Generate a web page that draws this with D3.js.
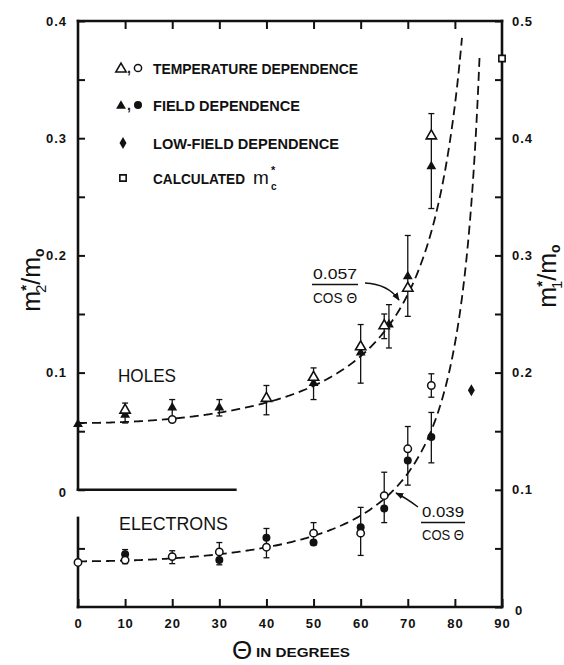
<!DOCTYPE html>
<html>
<head>
<meta charset="utf-8">
<script src="https://cdn.jsdelivr.net/npm/d3@7"></script>
<style>
  html, body { margin: 0; padding: 0; background: #fff; }
  svg { display: block; }
  text { font-family: "Liberation Sans", Arial, sans-serif; fill: #111; }
</style>
</head>
<body>
<svg id="chart" width="564" height="665"></svg>
<script>
// ---------- DATA ----------
const xTickValues = [0, 10, 20, 30, 40, 50, 60, 70, 80, 90];
const xTickLabels = ["0", "10", "20", "30", "40", "50", "60", "70", "80", "90"];
const leftTickLabelValues = [0, 0.1, 0.2, 0.3, 0.4];
const leftTickLabels = ["0", "0.1", "0.2", "0.3", "0.4"];
const rightTickLabelValues = [0, 0.1, 0.2, 0.3, 0.4, 0.5];
const rightTickLabels = ["0", "0.1", "0.2", "0.3", "0.4", "0.5"];

// Holes (left axis m2*/m0)
const holesTempTheta = [10, 40, 50, 60, 65, 70, 75];                 // open triangles
const holesTempMass  = [0.068, 0.078, 0.096, 0.122, 0.140, 0.172, 0.302];
const holesTempCircTheta = [20];                                      // open circle
const holesTempCircMass  = [0.060];
const holesFieldTheta = [0, 10, 20, 30, 50, 60, 66, 70, 75];          // filled triangles
const holesFieldMass  = [0.056, 0.064, 0.070, 0.070, 0.091, 0.117, 0.141, 0.182, 0.276];
const holesErrTheta = [10, 20, 30, 40, 50, 60, 65, 66, 70, 75];
const holesErrLo    = [0.057, 0.061, 0.063, 0.064, 0.077, 0.091, 0.129, 0.121, 0.148, 0.240];
const holesErrHi    = [0.074, 0.077, 0.077, 0.089, 0.104, 0.141, 0.150, 0.158, 0.217, 0.321];
const holesFitCoef = 0.057;

// Electrons (right axis m1*/m0)
const elecTempTheta = [0, 10, 20, 30, 40, 50, 60, 65, 70, 75];        // open circles
const elecTempMass  = [0.038, 0.040, 0.043, 0.047, 0.051, 0.063, 0.063, 0.095, 0.135, 0.189];
const elecFieldTheta = [10, 30, 40, 50, 60, 65, 70, 75];              // filled circles
const elecFieldMass  = [0.045, 0.040, 0.059, 0.055, 0.068, 0.084, 0.125, 0.145];
const elecErrTheta = [10, 20, 30, 40, 50, 60, 65, 70, 75, 75];
const elecErrLo    = [0.037, 0.037, 0.036, 0.042, 0.053, 0.044, 0.072, 0.104, 0.179, 0.123];
const elecErrHi    = [0.049, 0.048, 0.055, 0.067, 0.072, 0.085, 0.115, 0.154, 0.199, 0.166];
const elecFitCoef = 0.039;

// Other
const lowFieldTheta = [83.5];  const lowFieldMass = [0.185];   // diamond (right axis)
const calcTheta = [90];        const calcMass = [0.468];       // open square (right axis)

// ---------- SCALES ----------
const svg = d3.select("#chart");
const x  = d3.scaleLinear().domain([0, 90]).range([78, 502]);
const yR = d3.scaleLinear().domain([0, 0.5]).range([607, 21]);
const yL = d3.scaleLinear().domain([-0.1, 0.4]).range([607, 21]);

const ink = "#111";

// ---------- AXES ----------
const fmtFrom = (vals, labels) => v => {
  const i = vals.findIndex(w => Math.abs(w - v) < 1e-9);
  return i >= 0 ? labels[i] : "";
};

const gB = svg.append("g").attr("transform", `translate(0,${yR(0)})`)
  .call(d3.axisBottom(x).tickValues(xTickValues).tickSizeInner(-8).tickSizeOuter(0)
        .tickPadding(10).tickFormat(fmtFrom(xTickValues, xTickLabels)));
const gT = svg.append("g").attr("transform", `translate(0,${yR(0.5)})`)
  .call(d3.axisTop(x).tickValues([10, 20, 30, 40, 50, 60, 70, 80]).tickSizeInner(-8).tickSizeOuter(0).tickFormat(""));
const rightTicks = d3.range(0, 0.501, 0.05);
const gR = svg.append("g").attr("transform", `translate(${x(90)},0)`)
  .call(d3.axisRight(yR).tickValues(rightTicks).tickSizeInner(-7).tickSizeOuter(0)
        .tickPadding(10).tickFormat(fmtFrom(rightTickLabelValues, rightTickLabels)));
const leftTicks = d3.range(0, 0.401, 0.05);
const gL = svg.append("g").attr("transform", `translate(${x(0)},0)`)
  .call(d3.axisLeft(yL).tickValues(leftTicks).tickSizeInner(-7).tickSizeOuter(0)
        .tickPadding(11).tickFormat(fmtFrom(leftTickLabelValues, leftTickLabels)));
const gL2 = svg.append("g").attr("transform", `translate(${x(0)},0)`)
  .call(d3.axisLeft(yR).tickValues([0.05]).tickSizeInner(-7).tickSizeOuter(0).tickFormat(""));

[gB, gT, gR, gL, gL2].forEach(g => {
  g.select(".domain").remove();
  g.selectAll(".tick line").attr("stroke", ink).attr("stroke-width", 2);
  g.selectAll(".tick text").attr("fill", ink).style("font-size", "13px")
    .style("font-weight", "bold").style("letter-spacing", "1px")
    .style("font-family", '"Liberation Sans", Arial, sans-serif');
});
gB.selectAll(".tick text").attr("dy", "0.85em");
gR.selectAll(".tick").filter(d => d === 0).select("text").attr("x", 13).attr("dy", "0.6em");
gL.selectAll(".tick").filter(d => d === 0).select("text").attr("dy", "0.55em");

const frame = svg.append("g").attr("stroke", ink).attr("stroke-width", 2.6).attr("fill", "none")
  .attr("stroke-linecap", "square");
frame.append("line").attr("x1", x(0)).attr("x2", x(90)).attr("y1", yR(0)).attr("y2", yR(0));
frame.append("line").attr("x1", x(0)).attr("x2", x(90)).attr("y1", yR(0.5)).attr("y2", yR(0.5));
frame.append("line").attr("x1", x(90)).attr("x2", x(90)).attr("y1", yR(0)).attr("y2", yR(0.5));
frame.append("line").attr("x1", x(0)).attr("x2", x(0)).attr("y1", yL(0)).attr("y2", yL(0.4));
frame.append("line").attr("x1", x(0)).attr("x2", x(33.4)).attr("y1", yL(0)).attr("y2", yL(0));
frame.append("line").attr("x1", x(0)).attr("x2", x(0)).attr("y1", yR(0)).attr("y2", yR(0.076));

// ---------- FIT CURVES ----------
const line = d3.line().x(d => x(d[0])).y(d => d[1]);
function fitPts(coef, yScale, thetaMax) {
  const pts = [];
  for (let t = 0; t <= thetaMax + 1e-9; t += 0.25) pts.push([t, yScale(coef / Math.cos(t * Math.PI / 180))]);
  return pts;
}
svg.append("path").attr("d", line(fitPts(holesFitCoef, yL, 81.5)))
  .attr("fill", "none").attr("stroke", ink).attr("stroke-width", 1.8).attr("stroke-dasharray", "9,5");
svg.append("path").attr("d", line(fitPts(elecFitCoef, yR, 85.4)))
  .attr("fill", "none").attr("stroke", ink).attr("stroke-width", 1.8).attr("stroke-dasharray", "9,5");

// ---------- ERROR BARS ----------
function errBars(thetas, lo, hi, yScale) {
  const g = svg.append("g").attr("stroke", ink).attr("stroke-width", 1.3);
  thetas.forEach((t, i) => {
    const cx = x(t);
    g.append("line").attr("x1", cx).attr("x2", cx).attr("y1", yScale(lo[i])).attr("y2", yScale(hi[i]));
    g.append("line").attr("x1", cx - 3).attr("x2", cx + 3).attr("y1", yScale(lo[i])).attr("y2", yScale(lo[i]));
    g.append("line").attr("x1", cx - 3).attr("x2", cx + 3).attr("y1", yScale(hi[i])).attr("y2", yScale(hi[i]));
  });
}
errBars(holesErrTheta, holesErrLo, holesErrHi, yL);
errBars(elecErrTheta, elecErrLo, elecErrHi, yR);

// ---------- MARKERS ----------
const tri = d3.symbol().type(d3.symbolTriangle).size(42)();
const triOpen = d3.symbol().type(d3.symbolTriangle).size(46)();
const dia = d3.symbol().type(d3.symbolDiamond).size(42)();
const sq = d3.symbol().type(d3.symbolSquare).size(40)();

function markers(thetas, vals, yScale, kind) {
  thetas.forEach((t, i) => {
    const cx = x(t), cy = yScale(vals[i]);
    if (kind === "triFilled") svg.append("path").attr("d", tri).attr("transform", `translate(${cx},${cy})`).attr("fill", ink);
    if (kind === "triOpen") svg.append("path").attr("d", triOpen).attr("transform", `translate(${cx},${cy})`)
      .attr("fill", "#fff").attr("stroke", ink).attr("stroke-width", 1.6);
    if (kind === "circFilled") svg.append("circle").attr("cx", cx).attr("cy", cy).attr("r", 4).attr("fill", ink);
    if (kind === "circOpen") svg.append("circle").attr("cx", cx).attr("cy", cy).attr("r", 3.7)
      .attr("fill", "#fff").attr("stroke", ink).attr("stroke-width", 1.5);
    if (kind === "diamond") svg.append("path").attr("d", dia).attr("transform", `translate(${cx},${cy})`).attr("fill", ink);
    if (kind === "square") svg.append("path").attr("d", sq).attr("transform", `translate(${cx},${cy})`)
      .attr("fill", "#fff").attr("stroke", ink).attr("stroke-width", 1.6);
  });
}
markers(holesFieldTheta, holesFieldMass, yL, "triFilled");
markers(holesTempTheta, holesTempMass, yL, "triOpen");
markers(holesTempCircTheta, holesTempCircMass, yL, "circOpen");
markers(elecFieldTheta, elecFieldMass, yR, "circFilled");
markers(elecTempTheta, elecTempMass, yR, "circOpen");
markers(lowFieldTheta, lowFieldMass, yR, "diamond");
markers(calcTheta, calcMass, yR, "square");

// ---------- LEGEND ----------
const leg = svg.append("g");
const legText = (tx, ty, s, len) => leg.append("text").attr("x", tx).attr("y", ty)
  .attr("textLength", len).attr("lengthAdjust", "spacingAndGlyphs")
  .style("font-size", "14px").style("font-weight", "bold").text(s);
leg.append("path").attr("d", triOpen).attr("transform", "translate(121,69)").attr("fill", "#fff").attr("stroke", ink).attr("stroke-width", 1.6);
leg.append("text").attr("x", 127).attr("y", 73).style("font-size", "14px").style("font-weight", "bold").text(",");
leg.append("circle").attr("cx", 138).attr("cy", 68).attr("r", 3.6).attr("fill", "#fff").attr("stroke", ink).attr("stroke-width", 1.5);
legText(153, 73.5, "TEMPERATURE DEPENDENCE", 205);
leg.append("path").attr("d", tri).attr("transform", "translate(121,106)").attr("fill", ink);
leg.append("text").attr("x", 127).attr("y", 110).style("font-size", "14px").style("font-weight", "bold").text(",");
leg.append("circle").attr("cx", 138).attr("cy", 105).attr("r", 4).attr("fill", ink);
legText(153, 110.5, "FIELD DEPENDENCE", 147);
leg.append("path").attr("d", dia).attr("transform", "translate(123,143)").attr("fill", ink);
legText(153, 148.5, "LOW-FIELD DEPENDENCE", 186);
leg.append("path").attr("d", sq).attr("transform", "translate(123,178)").attr("fill", "#fff").attr("stroke", ink).attr("stroke-width", 1.6);
legText(153, 183.5, "CALCULATED", 92);
leg.append("text").attr("x", 253).attr("y", 183.5).style("font-size", "19px").text("m");
leg.append("text").attr("x", 271).attr("y", 190).style("font-size", "10px").style("font-weight", "bold").text("c");
leg.append("text").attr("x", 271).attr("y", 174).style("font-size", "11px").style("font-weight", "bold").text("*");

// ---------- LABELS ----------
svg.append("text").attr("x", 118).attr("y", 382).attr("textLength", 58).attr("lengthAdjust", "spacingAndGlyphs")
  .style("font-size", "18px").text("HOLES");
svg.append("text").attr("x", 119).attr("y", 530).attr("textLength", 109).attr("lengthAdjust", "spacingAndGlyphs")
  .style("font-size", "18px").text("ELECTRONS");

function fraction(cx, numY, lineY, denY, num, w) {
  svg.append("text").attr("x", cx).attr("y", numY).attr("text-anchor", "middle")
    .attr("textLength", w).attr("lengthAdjust", "spacingAndGlyphs")
    .style("font-size", "15px").text(num);
  svg.append("line").attr("x1", cx - w / 2 - 1).attr("x2", cx + w / 2 + 1).attr("y1", lineY).attr("y2", lineY)
    .attr("stroke", ink).attr("stroke-width", 1.6);
  svg.append("text").attr("x", cx).attr("y", denY).attr("text-anchor", "middle")
    .attr("textLength", w).attr("lengthAdjust", "spacingAndGlyphs")
    .style("font-size", "15px").text("COS Θ");
}
fraction(335, 279, 284.5, 303, "0.057", 44);
fraction(443, 517, 522.5, 540, "0.039", 42);

svg.append("defs").append("marker").attr("id", "ah").attr("viewBox", "0 0 10 10")
  .attr("refX", 9).attr("refY", 5).attr("markerWidth", 8).attr("markerHeight", 8)
  .attr("markerUnits", "userSpaceOnUse").attr("orient", "auto")
  .append("path").attr("d", "M0,1 L10,5 L0,9 Z").attr("fill", ink);
svg.append("path").attr("d", "M365,283 Q388,284 399,300").attr("fill", "none").attr("stroke", ink)
  .attr("stroke-width", 1.4).attr("marker-end", "url(#ah)");
svg.append("path").attr("d", "M418,507 Q406,498 396,493").attr("fill", "none").attr("stroke", ink)
  .attr("stroke-width", 1.4).attr("marker-end", "url(#ah)");

const tL = svg.append("text").attr("transform", "translate(40,280) rotate(-90)").attr("text-anchor", "middle")
  .style("font-size", "25px");
tL.append("tspan").text("m");
tL.append("tspan").attr("dy", -9).style("font-size", "15px").style("font-weight", "bold").text("*");
tL.append("tspan").attr("dx", -8).attr("dy", 15).style("font-size", "15px").text("2");
tL.append("tspan").attr("dy", -6).text("/m");
tL.append("tspan").attr("dy", 4).style("font-size", "14px").style("font-weight", "bold").text("o");

const tR = svg.append("text").attr("transform", "translate(556,276) rotate(-90)").attr("text-anchor", "middle")
  .style("font-size", "25px");
tR.append("tspan").text("m");
tR.append("tspan").attr("dy", -9).style("font-size", "15px").style("font-weight", "bold").text("*");
tR.append("tspan").attr("dx", -8).attr("dy", 15).style("font-size", "15px").text("1");
tR.append("tspan").attr("dy", -6).text("/m");
tR.append("tspan").attr("dy", 4).style("font-size", "14px").style("font-weight", "bold").text("o");

svg.append("text").attr("x", 232).attr("y", 659).style("font-size", "26px").text("Θ");
svg.append("text").attr("x", 256).attr("y", 657).attr("textLength", 94).attr("lengthAdjust", "spacingAndGlyphs")
  .style("font-size", "13px").style("font-weight", "bold").text("IN DEGREES");
</script>
